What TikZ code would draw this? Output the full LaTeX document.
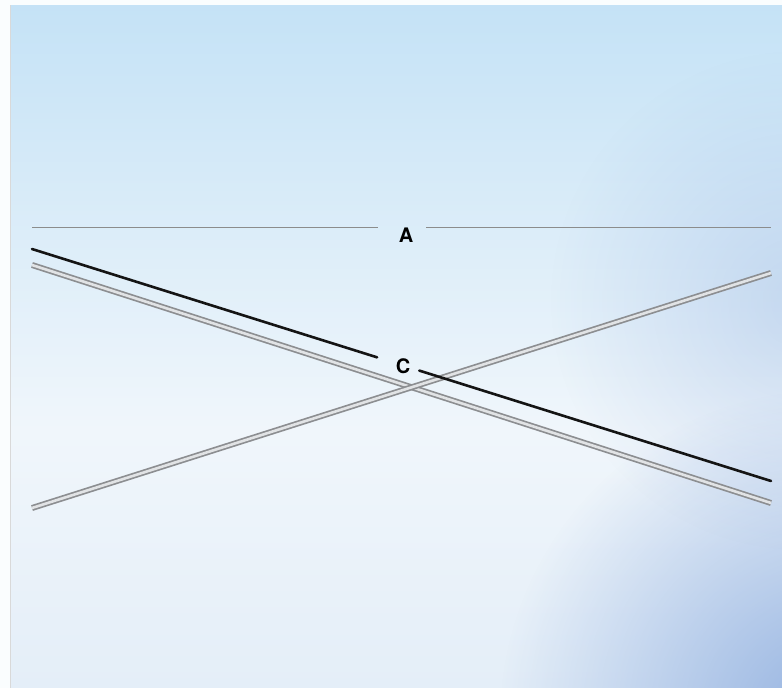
\documentclass[tikz,border=0pt]{standalone}
\usepackage{fontspec}
\setsansfont{TeX Gyre Heros}
\usetikzlibrary{calc,fadings}
\definecolor{bgtop}{RGB}{196,226,246}
\definecolor{bgmid}{RGB}{240,246,251}
\definecolor{bgbot}{RGB}{228,238,248}
\definecolor{bgcorner}{RGB}{140,172,222}
\definecolor{rodedge}{RGB}{140,142,145}
\definecolor{rodfill}{RGB}{225,227,229}
\definecolor{thinline}{RGB}{140,140,140}
\definecolor{darkline}{RGB}{20,20,20}
\tikzfading[name=cornerfade, inner color=transparent!0, outer color=transparent!100]
\tikzset{
  lbl/.style={font=\fontsize{20}{20}\selectfont\sffamily\bfseries, text=black, inner sep=0pt},
  thin line/.style={draw=thinline, line width=0.9pt},
  dark line/.style={draw=darkline, line width=2.6pt, line cap=round},
  rod/.style={draw=rodedge, line width=1.7pt, double=rodfill, double distance=2.6pt},
}
\begin{document}
\begin{tikzpicture}[x=1pt,y=-1pt]
  \useasboundingbox (0,0) rectangle (782,688);
  % background
  \shade[top color=bgtop, bottom color=bgmid] (0,0) rectangle (782,430);
  \shade[top color=bgmid, bottom color=bgbot] (0,429) rectangle (782,688);
  \begin{scope}
    \clip (0,0) rectangle (782,688);
    \fill[bgcorner, path fading=cornerfade, opacity=0.9] (830,720) circle (330);
    \fill[bgcorner, path fading=cornerfade, opacity=0.35] (800,300) circle (250);
  \end{scope}
  \fill[white!92!bgtop] (0,0) rectangle (10,688);
  \fill[white!92!bgtop] (0,0) rectangle (782,5);
  \draw[gray!30, line width=0.6pt] (10.5,5) -- (10.5,688);

  % coordinates
  \coordinate (aL) at (32,227);
  \coordinate (aR) at (771,227);
  \coordinate (bL) at (32,249);
  \coordinate (bR) at (771,481);
  \coordinate (r1L) at (32,265);
  \coordinate (r1R) at (771,503);
  \coordinate (r2L) at (32,508);
  \coordinate (r2R) at (771,273);
  \coordinate (c1) at ($(bL)!0.467!(bR)$);
  \coordinate (c2) at ($(bL)!0.524!(bR)$);

  % labels
  \node[lbl] (A) at (406,235) {A};
  \node[lbl] (C) at (403,366) {C};

  % rods
  \draw[rod] (r1L) -- (r1R);
  \draw[rod] (r2L) -- (r2R);

  % line A
  \draw[thin line] (aL) -- (378,227);
  \draw[thin line] (426,227) -- (aR);

  % black line
  \draw[dark line] (bL) -- (c1);
  \draw[dark line] (c2) -- (bR);
\end{tikzpicture}
\end{document}
